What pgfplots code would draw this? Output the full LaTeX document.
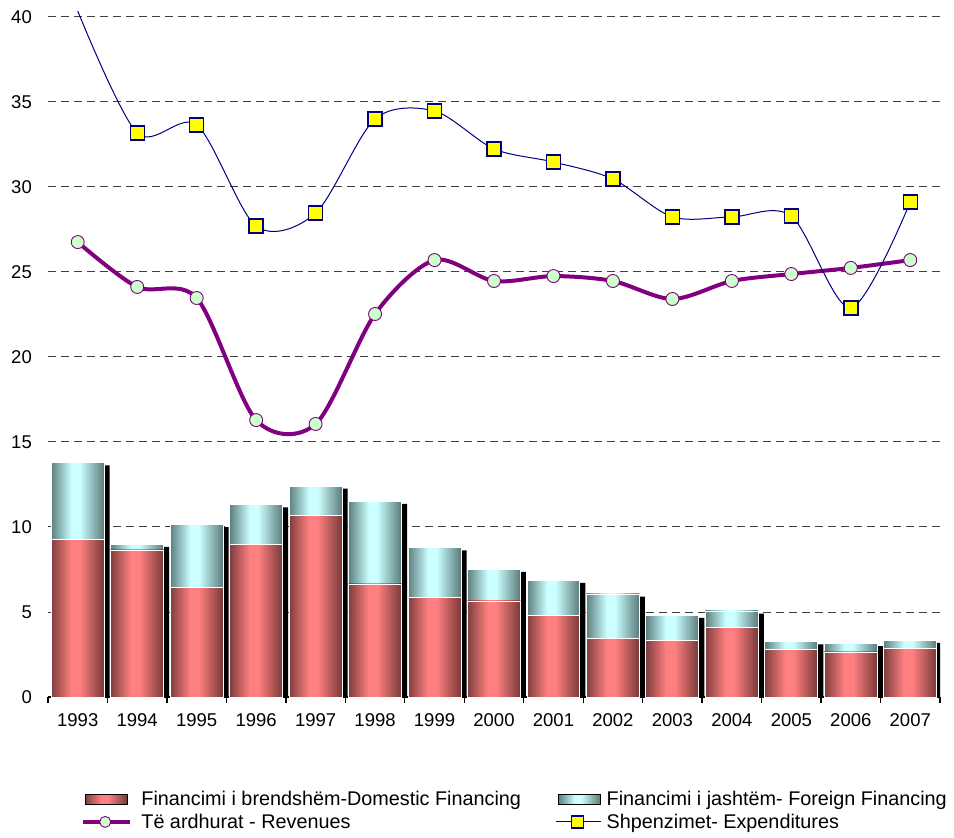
\documentclass[border=0pt]{standalone}
\usepackage{fontspec}
\setmainfont{Liberation Sans}
\usepackage{pgfplots}
\usepackage{pgfplotstable}
\pgfplotsset{compat=1.18}
\definecolor{rdarkL}{RGB}{128,62,62}
\definecolor{rbright}{RGB}{255,128,128}
\definecolor{rdarkR}{RGB}{120,56,56}
\definecolor{cdarkL}{RGB}{92,128,128}
\definecolor{cbright}{RGB}{204,255,255}
\definecolor{cdarkR}{RGB}{90,122,122}
\definecolor{purp}{RGB}{128,0,128}
\definecolor{lgreen}{RGB}{204,255,204}
\definecolor{navy}{RGB}{0,0,128}
\definecolor{yel}{RGB}{255,255,0}
\pgfdeclarehorizontalshading{redbar}{100bp}{color(0bp)=(rdarkL); color(25bp)=(rdarkL); color(44bp)=(rbright); color(52bp)=(rbright); color(75bp)=(rdarkR); color(100bp)=(rdarkR)}
\pgfdeclarehorizontalshading{cyanbar}{100bp}{color(0bp)=(cdarkL); color(25bp)=(cdarkL); color(44bp)=(cbright); color(52bp)=(cbright); color(75bp)=(cdarkR); color(100bp)=(cdarkR)}

\pgfplotstableread{
x  year dom   for  rev   exp
0  1993 9.27  4.50 26.76 40.35
1  1994 8.65  0.33 24.12 33.18
2  1995 6.47  3.67 23.47 33.65
3  1996 9.00  2.31 16.29 27.70
4  1997 10.65 1.76 16.06 28.47
5  1998 6.65  4.86 22.53 34.00
6  1999 5.84  2.94 25.70 34.47
7  2000 5.65  1.86 24.47 32.24
8  2001 4.82  2.04 24.76 31.47
9  2002 3.45  2.61 24.47 30.47
10 2003 3.35  1.45 23.41 28.24
11 2004 4.10  0.96 24.47 28.24
12 2005 2.82  0.43 24.88 28.29
13 2006 2.65  0.50 25.24 22.88
14 2007 2.88  0.45 25.70 29.12
}\datatable

\begin{document}
\begin{tikzpicture}
\begin{axis}[
  scale only axis, width=892bp, height=690.2bp,
  xmin=-0.5, xmax=14.5, ymin=0, ymax=40.6,
  axis x line*=bottom, axis y line*=left,
  y axis line style={draw=none},
  x axis line style={line width=1.3bp, black, -},
  xtick={0,1,...,14},
  xticklabels={1993,1994,1995,1996,1997,1998,1999,2000,2001,2002,2003,2004,2005,2006,2007},
  minor xtick={-0.5,0.5,...,14.5},
  ytick={0,5,...,40},
  major tick length=0pt, minor tick length=6bp, tick align=outside,
  minor tick style={line width=1.3bp, black},
  ymajorgrids, major grid style={dash pattern=on 8bp off 5bp, line width=1bp, black!75},
  ticklabel style={font=\fontsize{18.5bp}{22bp}\selectfont},
  /pgf/number format/assume math mode=true,
  yticklabel style={inner sep=0pt, xshift=-16bp},
  xticklabel style={inner sep=0pt, yshift=-16bp},
  legend columns=2,
  legend cell align=left,
  legend style={draw=none, fill=none, inner sep=0pt, at={(0.037,-0.1644)}, anchor=west,
    font=\fontsize{19.8bp}{24bp}\selectfont,
    nodes={inner sep=0pt},
    /tikz/row sep=7bp,
    /tikz/every even column/.append style={column sep=34bp}},
]
% shadows
\addplot[ybar, bar width=0.89, bar shift=5.5bp, fill=black, draw=none, forget plot]
  table[x=x, y expr=\thisrow{dom}+\thisrow{for}-0.15] {\datatable};
% bars, one plot per bar so each gets its own shading
\pgfplotsinvokeforeach{0,...,14}{
  \addplot[ybar, bar width=0.89, bar shift=0pt, shading=cyanbar, draw=white, line width=0.9bp, forget plot,
    restrict expr to domain={\coordindex}{#1:#1}]
    table[x=x, y expr=\thisrow{dom}+\thisrow{for}] {\datatable};
  \addplot[ybar, bar width=0.89, bar shift=0pt, shading=redbar, draw=white, line width=0.9bp, forget plot,
    restrict expr to domain={\coordindex}{#1:#1}]
    table[x=x, y=dom] {\datatable};
}
% revenues
\addplot[purp, line width=4bp, smooth, tension=0.5, mark=*, mark size=6.5bp,
  mark options={fill=lgreen, draw=purp, line width=0.9bp}, forget plot]
  table[x=x, y=rev] {\datatable};
% expenditures
\addplot[navy, line width=1bp, smooth, tension=0.5, mark=square*, mark size=7bp,
  mark options={fill=yel, draw=navy, line width=1.4bp}, forget plot,
  mark indices={2,3,4,5,6,7,8,9,10,11,12,13,14,15}]
  table[x=x, y=exp] {\datatable};

\addlegendimage{legend image code/.code={\path[shading=redbar] (0bp,-5bp) rectangle (42bp,5bp); \path (56bp,0bp);}}
\addlegendentry{Financimi i brendshëm-Domestic Financing}
\addlegendimage{legend image code/.code={\path[shading=cyanbar] (3bp,-5bp) rectangle (45bp,5bp); \path (51bp,0bp);}}
\addlegendentry{Financimi i jashtëm- Foreign Financing}
\addlegendimage{legend image code/.code={\draw[purp, line width=4bp] (-2bp,0bp) -- (45bp,0bp); \draw[draw=purp, fill=lgreen, line width=0.9bp] (20bp,0bp) circle (5.5bp); \path (56bp,0bp);}}
\addlegendentry{Të ardhurat - Revenues}
\addlegendimage{legend image code/.code={\draw[navy, line width=1bp] (0bp,0bp) -- (45bp,0bp); \draw[draw=navy, fill=yel, line width=1.3bp] (16bp,-6bp) rectangle (28bp,6bp); \path (51bp,0bp);}}
\addlegendentry{Shpenzimet- Expenditures}
\end{axis}
\pgfresetboundingbox
\path ([xshift=-48bp,yshift=-141bp]current axis.south west) rectangle ([xshift=14bp,yshift=6.8bp]current axis.north east);
\end{tikzpicture}
\end{document}
